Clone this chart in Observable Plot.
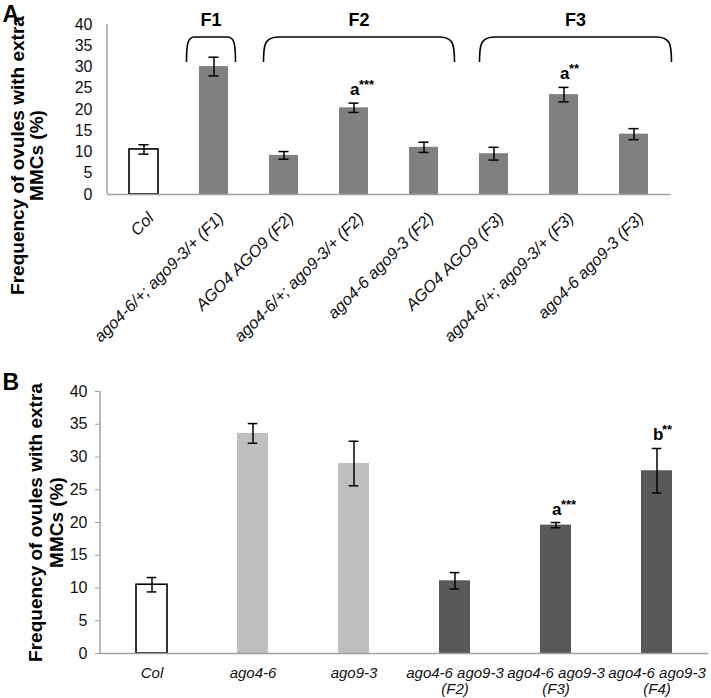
<!DOCTYPE html>
<html><head><meta charset="utf-8">
<script src="https://cdn.jsdelivr.net/npm/d3@7"></script>
<script src="https://cdn.jsdelivr.net/npm/@observablehq/plot@0.6"></script>
<style>
body{margin:0;background:#fff;}
#fig{position:relative;width:711px;height:698px;overflow:hidden;}
#fig .panel{position:absolute;left:0;}
</style></head><body><div id="fig"><div class="panel" id="pa" style="top:0"></div><div class="panel" id="pb" style="top:370px"></div></div>
<script>
// ---------- Panel A data ----------
const catsA = ["Col","ago4-6/+; ago9-3/+ (F1)","AGO4 AGO9 (F2)","ago4-6/+; ago9-3/+ (F2)","ago4-6 ago9-3 (F2)","AGO4 AGO9 (F3)","ago4-6/+; ago9-3/+ (F3)","ago4-6 ago9-3 (F3)"];
const valuesA = [10.6, 30.1, 9.2, 20.4, 11.1, 9.6, 23.5, 14.2];
const errorsA = [1.1, 2.2, 0.9, 1.1, 1.2, 1.5, 1.7, 1.3];
const kindA = ["wt","mut","mut","mut","mut","mut","mut","mut"];
const bracketLabelsA = ["F1","F2","F3"];
const bracketFromA = ["ago4-6/+; ago9-3/+ (F1)","AGO4 AGO9 (F2)","AGO4 AGO9 (F3)"];
const bracketToA = ["ago4-6/+; ago9-3/+ (F1)","ago4-6 ago9-3 (F2)","ago4-6 ago9-3 (F3)"];
const annotCatsA = ["ago4-6/+; ago9-3/+ (F2)","ago4-6/+; ago9-3/+ (F3)"];
const annotLettersA = ["a","a"];
const annotStarsA = ["***","**"];

// ---------- Panel B data ----------
const catsB = ["Col","ago4-6","ago9-3","ago4-6 ago9-3\n(F2)","ago4-6 ago9-3\n(F3)","ago4-6 ago9-3\n(F4)"];
const valuesB = [10.5, 33.6, 29.0, 11.1, 19.6, 27.9];
const errorsB = [1.1, 1.5, 3.4, 1.25, 0.4, 3.4];
const kindB = ["wt","single","single","double","double","double"];
const annotCatsB = ["ago4-6 ago9-3\n(F3)","ago4-6 ago9-3\n(F4)"];
const annotLettersB = ["a","b"];
const annotStarsB = ["***","**"];

const yTicks = [0,5,10,15,20,25,30,35,40];
const yTitle1 = "Frequency of ovules with extra";
const yTitle2 = "MMCs (%)";

// ---------- styling ----------
const FONT = '"Liberation Sans", Arial, Helvetica, sans-serif';
const FILL = {wt:"#ffffff", mut:"#808080", single:"#bfbfbf", double:"#595959"};
const AXIS = "#a0a0a0";

const rows = (cats, vals, errs, kinds) => cats.map((c,i)=>({cat:c, value:vals[i], err:errs[i], kind:kinds[i]}));
const dataA = rows(catsA, valuesA, errorsA, kindA);
const dataB = rows(catsB, valuesB, errorsB, kindB);
const annots = (cats, letters, stars, data) => cats.map((c,i)=>{const d=data.find(r=>r.cat===c); return {cat:c, letter:letters[i], stars:stars[i], top:d.value+d.err};});
const annA = annots(annotCatsA, annotLettersA, annotStarsA, dataA);
const annB = annots(annotCatsB, annotLettersB, annotStarsB, dataB);

const yAxisLine = (index, scales, values, dim) => {
  const g = d3.create("svg:g");
  g.append("line").attr("x1", dim.marginLeft).attr("x2", dim.marginLeft)
    .attr("y1", dim.marginTop).attr("y2", dim.height - dim.marginBottom)
    .attr("stroke", AXIS).attr("stroke-width", 1.5);
  return g.node();
};

const bracketPads = [[-27, 22], [-20, 31], [-14, 38]];
const bracketMark = (index, scales, values, dim) => {
  const x = scales.x, bw = x.bandwidth();
  const g = d3.create("svg:g");
  const yTop = 37, yBot = 62, r = 15;
  bracketLabelsA.forEach((lab, i) => {
    const x0 = x(bracketFromA[i]) + bw/2 + bracketPads[i][0];
    const x1 = x(bracketToA[i]) + bw/2 + bracketPads[i][1];
    const rr = Math.min(r, (x1-x0)*0.16);
    g.append("path")
      .attr("d", `M${x0},${yBot} C${x0},${yTop+8} ${x0+1},${yTop} ${x0+rr},${yTop} L${x1-rr},${yTop} C${x1-1},${yTop} ${x1},${yTop+8} ${x1},${yBot}`)
      .attr("fill","none").attr("stroke","#000").attr("stroke-width",1.6);
    g.append("text").attr("x",(x0+x1)/2).attr("y",26).attr("text-anchor","middle")
      .attr("font-weight","bold").attr("font-size",18).attr("font-family",FONT).attr("fill","#000").text(lab);
  });
  return g.node();
};

function panel({data, ann, cats, height, mt, mb, ml, mr, pin, tickSize, tickPad, letter, letterDy, titleX1, titleX2, titleCy, labelMarks, brackets}) {
  const n = cats.length;
  const step = (711 - ml - mr) / n;
  const bw = step * (1 - pin);
  const capInset = (bw - 10) / 2;
  const frameMid = (mt + (height - mb)) / 2;
  return Plot.plot({
    width: 711, height,
    marginTop: mt, marginBottom: mb, marginLeft: ml, marginRight: mr,
    style: {fontFamily: FONT, fontSize: "16px", color: "#111", background: "transparent", overflow: "visible"},
    x: {domain: cats, paddingInner: pin, paddingOuter: pin/2, axis: null},
    y: {domain: [0, 40]},
    marks: [
      Plot.axisY({ticks: yTicks, tickSize, tickPadding: tickPad, fontSize: 16, stroke: AXIS, fill: "#111", label: null}),
      Plot.barY(data, {x: "cat", y: "value", fill: d => FILL[d.kind], stroke: d => d.kind === "wt" ? "#000" : FILL[d.kind], strokeWidth: d => d.kind === "wt" ? 1.6 : 0}),
      Plot.ruleY([0], {stroke: AXIS, strokeWidth: 1.5}),
      yAxisLine,
      Plot.ruleX(data, {x: "cat", y1: d => d.value - d.err, y2: d => d.value + d.err, stroke: "#000", strokeWidth: 1.5}),
      Plot.tickY(data, {x: "cat", y: d => d.value + d.err, stroke: "#000", strokeWidth: 1.5, insetLeft: capInset, insetRight: capInset}),
      Plot.tickY(data, {x: "cat", y: d => d.value - d.err, stroke: "#000", strokeWidth: 1.5, insetLeft: capInset, insetRight: capInset}),
      Plot.text(ann, {x: "cat", y: "top", text: "letter", textAnchor: "start", dx: -4, dy: -8, lineAnchor: "bottom", fontWeight: "bold", fontSize: 17, fill: "#000"}),
      Plot.text(ann, {x: "cat", y: "top", text: "stars", textAnchor: "start", dx: 5, dy: -14, lineAnchor: "bottom", fontWeight: "bold", fontSize: 13, fill: "#000"}),
      ...labelMarks,
      Plot.text([yTitle1], {text: d => d, frameAnchor: "left", rotate: -90, dx: titleX1 - ml, dy: titleCy - frameMid, textAnchor: "middle", lineAnchor: "middle", fontWeight: "bold", fontSize: 19, fill: "#000"}),
      Plot.text([yTitle2], {text: d => d, frameAnchor: "left", rotate: -90, dx: titleX2 - ml, dy: titleCy - frameMid, textAnchor: "middle", lineAnchor: "middle", fontWeight: "bold", fontSize: 19, fill: "#000"}),
      Plot.text([letter], {text: d => d, frameAnchor: "top-left", dx: 2 - ml, dy: letterDy - mt, textAnchor: "start", lineAnchor: "bottom", fontWeight: "bold", fontSize: 23, fill: "#000"}),
      ...(brackets ? [bracketMark] : [])
    ]
  });
}

const plotA = panel({
  data: dataA, ann: annA, cats: catsA, height: 380, mt: 24, mb: 186, ml: 107, mr: 41, pin: 0.59,
  tickSize: 0, tickPad: 15, letter: "A", letterDy: 21, titleX1: 17, titleX2: 36, titleCy: 155,
  labelMarks: [Plot.text(catsA, {x: d => d, text: d => d, frameAnchor: "bottom", rotate: -45, textAnchor: "end", lineAnchor: "middle", dx: 7, dy: 21, fontStyle: "italic", fontSize: 16.5, fill: "#111"})],
  brackets: true
});
const plotB = panel({
  data: dataB, ann: annB, cats: catsB, height: 328, mt: 21, mb: 45, ml: 100, mr: 3, pin: 0.69,
  tickSize: 5, tickPad: 8, letter: "B", letterDy: 19, titleX1: 35, titleX2: 56, titleCy: 152,
  labelMarks: [Plot.text(catsB, {x: d => d, text: d => d, frameAnchor: "bottom", textAnchor: "middle", lineAnchor: "top", dy: 13, lineHeight: 1.07, fontStyle: "italic", fontSize: 15, fill: "#111"})],
  brackets: false
});
document.getElementById("pa").appendChild(plotA);
document.getElementById("pb").appendChild(plotB);
</script></body></html>
